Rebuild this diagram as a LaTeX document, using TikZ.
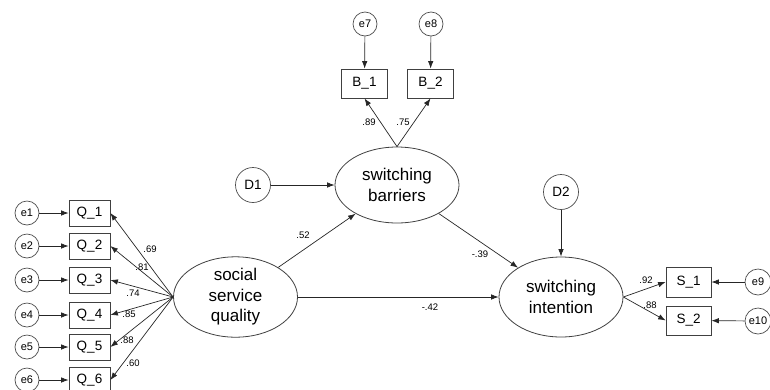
\documentclass[tikz,border=0pt]{standalone}
\usepackage{fontspec}
\setmainfont{Liberation Sans}
\usetikzlibrary{arrows.meta,shapes.geometric}
\begin{document}
\begin{tikzpicture}[x=1pt,y=-1pt,
 lat/.style={ellipse,draw=black!75,line width=0.8pt,minimum width=124pt,minimum height=76pt,inner sep=0pt,align=center,font=\fontsize{17}{20.5}\selectfont},
 err/.style={circle,draw=black!70,line width=0.7pt,minimum size=24pt,inner sep=0pt,font=\fontsize{11}{12}\selectfont},
 dist/.style={circle,draw=black!70,line width=0.7pt,minimum size=35pt,inner sep=0pt,font=\fontsize{13.5}{14}\selectfont},
 obs/.style={rectangle,draw=black!75,line width=0.8pt,minimum width=41pt,minimum height=26pt,inner sep=0pt,font=\fontsize{13.5}{14}\selectfont},
 obsb/.style={obs,minimum width=46pt,minimum height=29pt},
 arr/.style={-{Latex[length=7.5pt,width=5.5pt]},line width=0.7pt,black!85},
 coef/.style={font=\fontsize{9.5}{10}\selectfont,inner sep=0pt}]
\useasboundingbox (0,0) rectangle (770,389);
% latent variables
\node[lat] (ssq) at (235.5,297) {social\\service\\quality};
\node[lat] (sb) at (397,185) {switching\\barriers};
\node[lat,minimum height=80pt] (si) at (561,297) {switching\\intention};
% disturbances
\node[dist] (d1) at (253,185) {D1};
\node[dist] (d2) at (561,192) {D2};
% Q indicators
\foreach \i/\y in {1/213,2/246,3/280,4/315,5/347,6/380}{
  \node[obs] (q\i) at (89.5,\y) {Q\_\i};
  \node[err] (e\i) at (27,\y) {e\i};
  \draw[arr] (e\i) -- (q\i);
  \draw[arr] (ssq.west) -- (q\i.east);
}
% B indicators
\node[obsb] (b1) at (364.5,83.5) {B\_1};
\node[obsb] (b2) at (430.5,83.5) {B\_2};
\node[err] (e7) at (365,24) {e7};
\node[err] (e8) at (431,24) {e8};
\draw[arr] (e7) -- (b1);
\draw[arr] (e8) -- (b2);
\draw[arr] (sb.north) -- (b1.south);
\draw[arr] (sb.north) -- (b2.south);
% S indicators
\node[obs,minimum width=45pt,minimum height=30pt] (s1) at (688.5,282) {S\_1};
\node[obs,minimum width=45pt,minimum height=29pt] (s2) at (688.5,320.5) {S\_2};
\node[err,minimum size=26pt] (e9) at (758,282) {e9};
\node[err,minimum size=26pt] (e10) at (758,321) {e10};
\draw[arr] (e9) -- (s1);
\draw[arr] (e10) -- (s2);
\draw[arr] (si.east) -- (s1.west);
\draw[arr] (si.east) -- (s2.west);
% structural paths
\draw[arr] (d1) -- (sb);
\draw[arr] (d2) -- (si);
\draw[arr] (ssq) -- (sb);
\draw[arr] (sb) -- (si);
\draw[arr] (ssq.east) -- (si.west);
% coefficients
\node[coef] (c1) at (150,249) {.69};
\node[coef] (c2) at (142,267) {.81};
\node[coef] (c3) at (133,293) {.74};
\node[coef] (c4) at (129,314) {.85};
\node[coef] (c5) at (127,340) {.88};
\node[coef] (c6) at (133,363) {.60};
\node[coef] (c7) at (369,122) {.89};
\node[coef] (c8) at (403,122) {.75};
\node[coef] (c9) at (303,235) {.52};
\node[coef] (c10) at (480,254) {-.39};
\node[coef] (c11) at (430,307) {-.42};
\node[coef] (c12) at (646,280) {.92};
\node[coef] (c13) at (650,305) {.88};
\end{tikzpicture}
\end{document}
